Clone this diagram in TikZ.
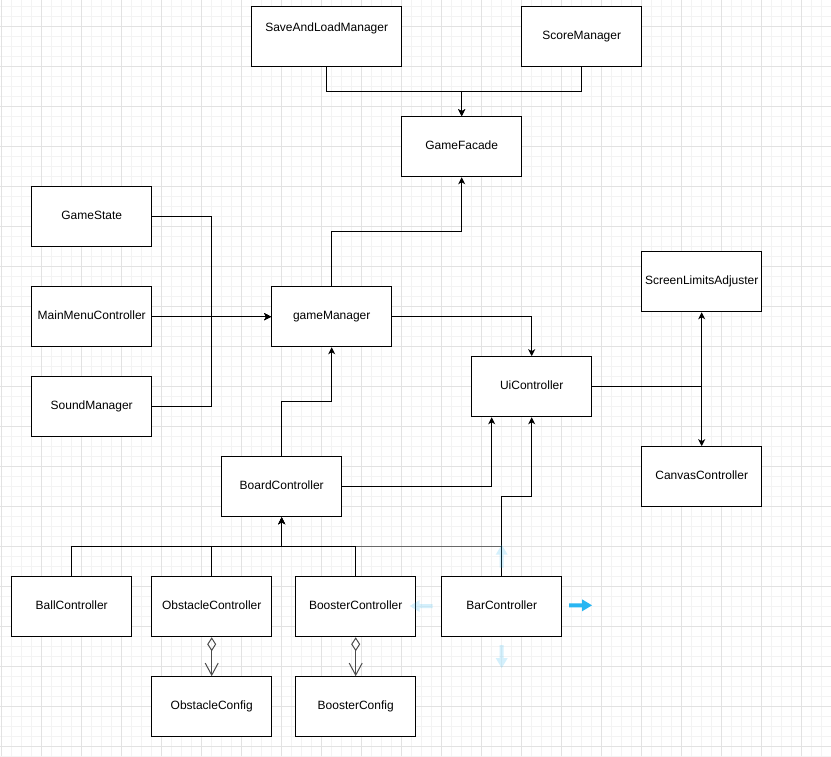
\documentclass[tikz,border=0pt]{standalone}
\usepackage{fontspec}
\setmainfont{Liberation Sans}
\usetikzlibrary{arrows.meta,calc}

\definecolor{gridmajor}{RGB}{226,226,226}
\definecolor{gridminor}{RGB}{243,243,243}
\definecolor{hintblue}{RGB}{41,182,242}
\definecolor{aggline}{RGB}{75,75,75}
\definecolor{greyedge}{RGB}{105,105,105}

% draw.io style hover arrow: tail at the origin, pointing along +x
\newcommand{\hintarrow}[4]{%
  \fill[hintblue, fill opacity=#4, shift={(#1,#2)}, rotate=#3]
    (0,-2) -- (13,-2) -- (13,-6) -- (23,0) -- (13,6) -- (13,2) -- (0,2) -- cycle;}

\tikzset{
  classbox/.style={draw=black, line width=1.1pt, fill=white,
    minimum width=120pt, minimum height=60pt, inner sep=0pt,
    font=\fontsize{12}{14}\selectfont, text height=9pt, text depth=2.5pt},
  arr/.style={draw=black, line width=1pt, -{Stealth[length=7pt,width=7pt,inset=2pt]}},
  greyarr/.style={draw=greyedge, line width=1.4pt, -{Stealth[length=7pt,width=7pt,inset=2pt]}},
  agg/.style={draw=aggline, line width=1.1pt,
    {Diamond[open,length=14pt,width=9pt,line width=1pt]}-{Straight Barb[length=12pt,width=13pt,line width=1pt]}},
  minorline/.style={draw=gridminor, line width=1pt},
  majorline/.style={draw=gridmajor, line width=1pt}
}

\begin{document}
\begin{tikzpicture}[x=1pt, y=-1pt, shift={(1.7,1.7)}]
  \useasboundingbox (-1.7,-1.7) rectangle (829.3,754.3);
  \fill[white] (-1.7,-1.7) rectangle (829.3,754.3);

  % background grid
  \foreach \gx in {0,10,...,830} \draw[minorline] (\gx,-1.7) -- (\gx,754.3);
  \foreach \gy in {-5,5,...,755} \draw[minorline] (-1.7,\gy) -- (829.3,\gy);
  \foreach \gx in {0,40,...,800} \draw[majorline] (\gx,-1.7) -- (\gx,754.3);
  \foreach \gy in {-15,25,...,745} \draw[majorline] (-1.7,\gy) -- (829.3,\gy);

  % classes
  \node[classbox, minimum width=150pt, text depth=18.5pt] (sal) at (325,35) {SaveAndLoadManager};
  \node[classbox] (score) at (580,35) {ScoreManager};
  \node[classbox] (gf) at (460,145) {GameFacade};
  \node[classbox] (gs) at (90,215) {GameState};
  \node[classbox] (mm) at (90,315) {MainMenuController};
  \node[classbox] (snd) at (90,405) {SoundManager};
  \node[classbox] (gm) at (330,315) {gameManager};
  \node[classbox] (ui) at (530,385) {UiController};
  \node[classbox] (sla) at (700,280) {ScreenLimitsAdjuster};
  \node[classbox] (cc) at (700,475) {CanvasController};
  \node[classbox] (board) at (280,485) {BoardController};
  \node[classbox] (ball) at (70,605) {BallController};
  \node[classbox] (obst) at (210,605) {ObstacleController};
  \node[classbox] (boost) at (354,605) {BoosterController};
  \node[classbox] (bar) at (500,605) {BarController};
  \node[classbox] (oconf) at (210,705) {ObstacleConfig};
  \node[classbox] (bconf) at (354,705) {BoosterConfig};

  % bend points of the orthogonal connectors
  \coordinate (j1) at (460,90);
  \coordinate (j2) at (460,230);
  \coordinate (j3) at (210,315);
  \coordinate (j4) at (330,400);
  \coordinate (j5) at (530,495);
  \coordinate (j6) at (700,385);
  \coordinate (j7) at (280,545);

  % grey connector first, so the black ones lie on top of it
  \draw[greyarr] (bar.north) |- (j7) -- (board.south);

  % connectors
  \draw[arr] (sal.south) |- (j1) -- (gf.north);
  \draw[arr] (score.south) |- (j1) -- (gf.north);
  \draw[arr] (gm.north) |- (j2) -- (gf.south);
  \draw[arr] (gs.east) -| (j3) -- (gm.west);
  \draw[arr] (snd.east) -| (j3) -- (gm.west);
  \draw[arr] (mm.east) -- (gm.west);
  \draw[arr] (gm.east) -| (ui.north);
  \draw[arr] (board.north) |- (j4) -- (gm.south);
  \draw[arr] (board.east) -| ($(ui.south)-(40,0)$);
  \draw[arr] (bar.north) |- (j5) -- (ui.south);
  \draw[arr] (ui.east) -- (j6) -- (sla.south);
  \draw[arr] (ui.east) -- (j6) -- (cc.north);
  \draw[arr] (ball.north) |- (j7) -- (board.south);
  \draw[arr] (obst.north) |- (j7) -- (board.south);
  \draw[arr] (boost.north) |- (j7) -- (board.south);

  % aggregations
  \draw[agg] (obst.south) -- (oconf.north);
  \draw[agg] (boost.south) -- (bconf.north);

  % hover arrows around BarController
  \hintarrow{500}{566}{90}{0.2}
  \hintarrow{431}{604.3}{180}{0.2}
  \hintarrow{500}{643.3}{-90}{0.2}
  \hintarrow{567.3}{603.6}{0}{1}
\end{tikzpicture}
\end{document}
